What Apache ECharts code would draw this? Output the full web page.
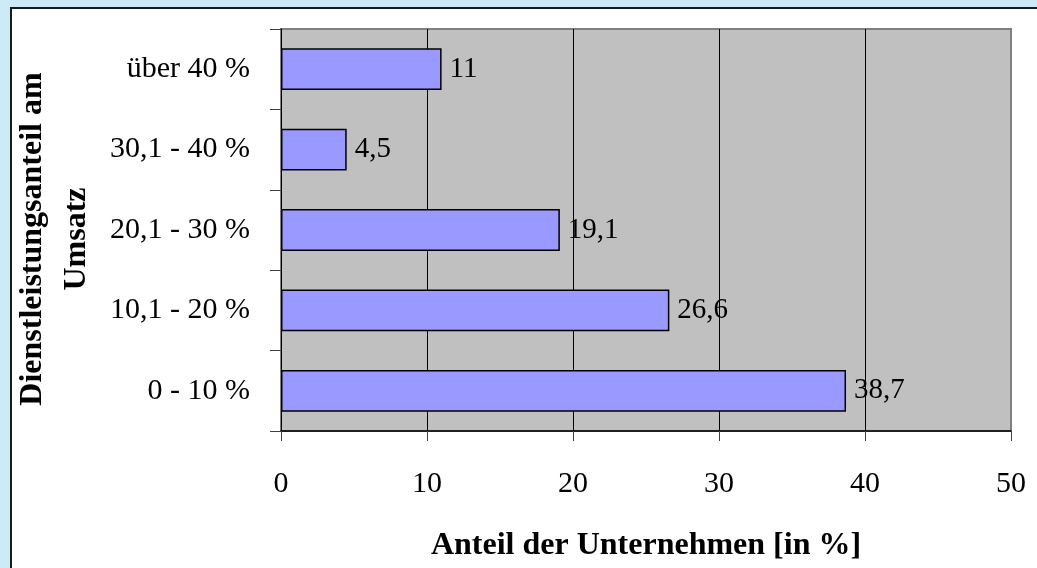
<!DOCTYPE html>
<html>
<head>
<meta charset="utf-8">
<script src="https://cdn.jsdelivr.net/npm/echarts@6/dist/echarts.min.js"></script>
<style>
html,body{margin:0;padding:0;background:#CCEBF6;}
#chart{width:1037px;height:568px;}
</style>
</head>
<body>
<div id="chart"></div>
<script>
const categories = ['0 - 10 %', '10,1 - 20 %', '20,1 - 30 %', '30,1 - 40 %', 'über 40 %'];
const values = [38.7, 26.6, 19.1, 4.5, 11];
const xTicks = [0, 10, 20, 30, 40, 50];
const xTitle = 'Anteil der Unternehmen [in %]';
const yTitle = 'Dienstleistungsanteil am\nUmsatz';

const FONT = "'Liberation Serif', 'Times New Roman', serif";
const chart = echarts.init(document.getElementById('chart'), null, {renderer: 'canvas'});
chart.setOption({
  backgroundColor: '#CCEBF6',
  animation: false,
  graphic: [{
    type: 'rect', z: -10, silent: true,
    shape: {x: 11, y: 8, width: 1040, height: 580},
    style: {fill: '#FFFFFF', stroke: '#1a1a1a', lineWidth: 2}
  }],
  grid: {
    left: 281, top: 29, right: 26, bottom: 137,
    show: true, backgroundColor: '#C0C0C0', borderColor: '#808080', borderWidth: 2,
    containLabel: false, outerBoundsMode: 'none'
  },
  xAxis: {
    type: 'value', min: xTicks[0], max: xTicks[xTicks.length - 1], interval: 10,
    name: xTitle, nameLocation: 'middle', nameGap: 99,
    nameTextStyle: {fontFamily: FONT, fontSize: 32, fontWeight: 'bold', color: '#000'},
    axisLine: {show: true, lineStyle: {color: '#000', width: 1.5}},
    axisTick: {show: true, length: 10, lineStyle: {color: '#404040', width: 1}},
    axisLabel: {fontFamily: FONT, fontSize: 30, color: '#000', margin: 38},
    splitLine: {show: true, lineStyle: {color: ['#000', '#000', '#000', '#000', '#000', '#808080'], width: 1}}
  },
  yAxis: {
    type: 'category', data: categories,
    name: yTitle, nameLocation: 'middle', nameGap: 180, nameRotate: 90,
    nameTextStyle: {fontFamily: FONT, fontSize: 32, fontWeight: 'bold', color: '#000', lineHeight: 44, align: 'center', padding: [0, 18, 0, 0]},
    axisLine: {show: true, lineStyle: {color: '#000', width: 1}},
    axisTick: {show: true, length: 11, lineStyle: {color: '#404040', width: 1}},
    axisLabel: {fontFamily: FONT, fontSize: 30, color: '#000', margin: 31},
    splitLine: {show: false}
  },
  series: [{
    type: 'bar', data: values, barWidth: '52%',
    itemStyle: {color: '#9999FF', borderColor: '#000', borderWidth: 1.5},
    label: {
      show: true, position: 'right', distance: 8,
      fontFamily: FONT, fontSize: 29, color: '#000',
      formatter: p => String(p.value).replace('.', ',')
    }
  }]
});
</script>
</body>
</html>
